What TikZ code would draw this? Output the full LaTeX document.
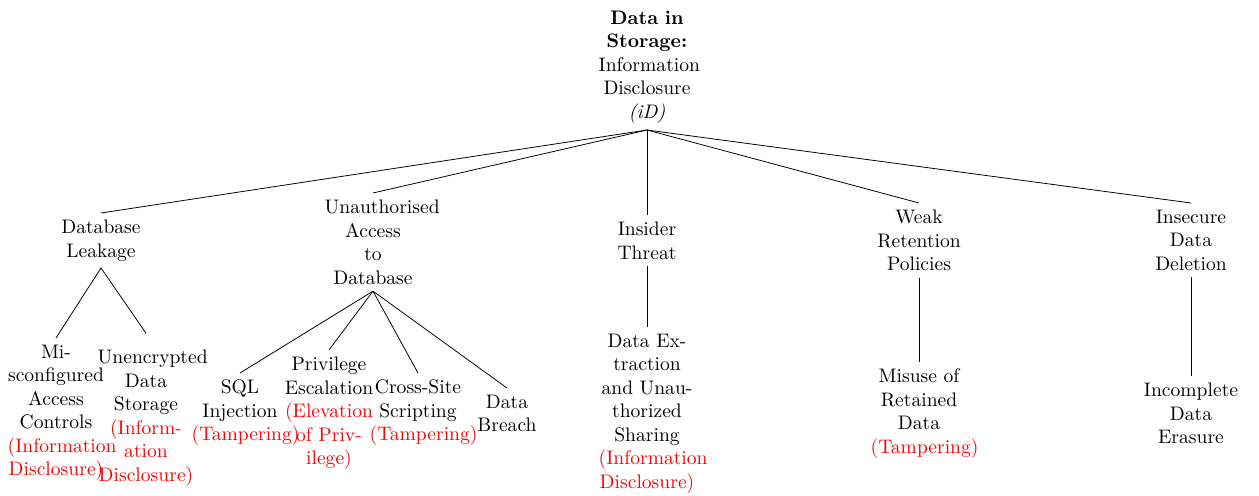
\documentclass[tikz,border=0pt]{standalone}
\usepackage{xcolor}
\newcommand\redtxt[1]{\textcolor{red}{#1}}
\tikzset{
  txt/.style={align=center, text width=49.3pt, inner sep=3.333pt, font=\normalsize, anchor=north},
  link/.style={draw=black, line width=0.4pt}
}
\begin{document}
\begin{tikzpicture}[x=0.5107pt,y=-0.5107pt]
\useasboundingbox (0,0) rectangle (1259,495);
% root
\node[txt,anchor=south] (root) at (647,130) {\textbf{Data in}\\\textbf{Storage:}\\Information\\Disclosure\\\textit{(iD)}};
% level 1
\node[txt] (dbl) at (101,213) {Database\\Leakage};
\node[txt] (uad) at (373,193) {\mbox{Unauthorised}\\Access\\to\\Database};
\node[txt] (ins) at (647,215) {Insider\\Threat};
\node[txt] (wrp) at (919,203) {Weak\\Retention\\Policies};
\node[txt] (idd) at (1191,203) {Insecure\\Data\\Deletion};
% level 2
\node[txt] (mac) at (56,338) {Mi-\\sconfigured\\Access\\Controls\\\redtxt{\mbox{(Information}}\\\redtxt{Disclosure)}};
\node[txt] (uds) at (146,343) {\mbox{Unencrypted}\\Data\\Storage\\\redtxt{(Inform-}\\\redtxt{ation}\\\redtxt{Disclosure)}};
\node[txt] (sql) at (240,373) {SQL\\Injection\\\redtxt{\mbox{(Tampering)}}};
\node[txt] (pe) at (329,350) {Privilege\\Escalation\\\redtxt{(Elevation}\\\redtxt{of Priv-}\\\redtxt{ilege)}};
\node[txt] (xss) at (418,373) {Cross-Site\\Scripting\\\redtxt{\mbox{(Tampering)}}};
\node[txt] (dbr) at (507,388) {Data\\Breach};
\node[txt] (dex) at (647,327) {Data Ex-\\traction\\and Unau-\\thorized\\Sharing\\\redtxt{\mbox{(Information}}\\\redtxt{Disclosure)}};
\node[txt] (mrd) at (919,362) {Misuse of\\Retained\\Data\\\redtxt{\mbox{(Tampering)}}};
\node[txt] (ide) at (1191,376) {Incomplete\\Data\\Erasure};
% edges
\draw[link] (root.south) -- (dbl.north);
\draw[link] (root.south) -- (uad.north);
\draw[link] (root.south) -- (ins.north);
\draw[link] (root.south) -- (wrp.north);
\draw[link] (root.south) -- (idd.north);
\draw[link] (dbl.south) -- (mac.north);
\draw[link] (dbl.south) -- ([yshift=5pt]uds.north);
\draw[link] (uad.south) -- (sql.north);
\draw[link] (uad.south) -- (pe.north);
\draw[link] (uad.south) -- (xss.north);
\draw[link] (uad.south) -- (dbr.north);
\draw[link] (ins.south) -- (dex.north);
\draw[link] (wrp.south) -- (mrd.north);
\draw[link] (idd.south) -- (ide.north);
\end{tikzpicture}
\end{document}
